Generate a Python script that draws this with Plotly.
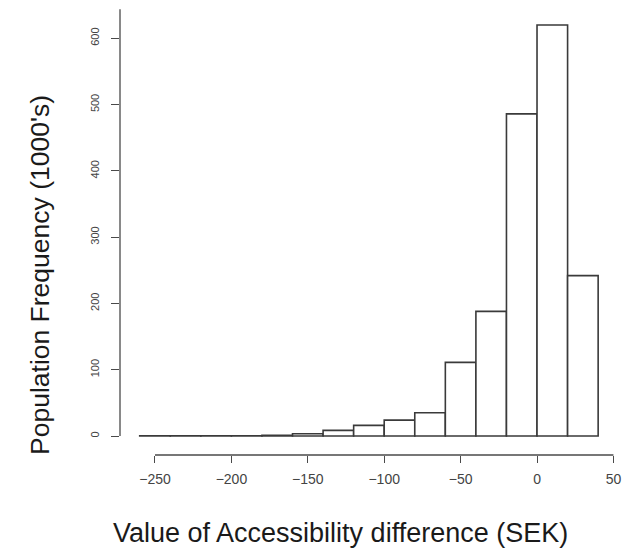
import plotly.graph_objects as go

# Histogram data (population in 1000's) per 20-SEK bin
bin_starts = [-260, -240, -220, -200, -180, -160, -140, -120, -100, -80, -60, -40, -20, 0, 20]
bin_width = 20
counts = [0.2, 0.2, 0.3, 0.4, 1.0, 3.5, 8.5, 16, 24, 35, 111, 188, 486, 620, 242]

x_ticks = [-250, -200, -150, -100, -50, 0, 50]
x_tick_labels = ["\u2212250", "\u2212200", "\u2212150", "\u2212100", "\u221250", "0", "50"]
y_ticks = [0, 100, 200, 300, 400, 500, 600]
y_tick_labels = ["0", "100", "200", "300", "400", "500", "600"]

x_title = "Value of Accessibility difference (SEK)"
y_title = "Population Frequency (1000's)"

FONT = "Liberation Sans, Arial, sans-serif"
AXIS_COLOR = "#4a4a4a"
BAR_LINE = "#3a3a3a"

fig = go.Figure()
fig.add_trace(go.Bar(
    x=bin_starts, y=counts, width=bin_width, offset=0,
    marker=dict(color="white", line=dict(color=BAR_LINE, width=1.6)),
    hoverinfo="x+y",
))

# The page body has an 8px margin, so the figure is sized 8px smaller.
fig.update_layout(
    width=628, height=541,
    margin=dict(l=112, r=16, t=0, b=94),
    paper_bgcolor="white", plot_bgcolor="white",
    showlegend=False,
    font=dict(family=FONT, color="#333"),
    xaxis=dict(
        range=[-272.9, 54.3], showgrid=False, zeroline=False, showline=False,
        tickmode="array", tickvals=x_ticks, ticktext=x_tick_labels,
        ticks="outside", ticklen=7, tickwidth=1.2, tickcolor=AXIS_COLOR,
        tickfont=dict(size=14, color="#444", family=FONT),
        ticklabelstandoff=4,
    ),
    yaxis=dict(
        range=[-28.67, 645.7], showgrid=False, zeroline=False, showline=False,
        tickmode="array", tickvals=y_ticks, ticktext=y_tick_labels,
        ticks="outside", ticklen=8, tickwidth=1.2, tickcolor=AXIS_COLOR,
        tickangle=-90,
        tickfont=dict(size=11, color="#444", family=FONT),
        ticklabelstandoff=8,
    ),
    shapes=[
        dict(type="line", xref="x", yref="paper", x0=x_ticks[0], x1=x_ticks[-1], y0=0, y1=0,
             line=dict(color=AXIS_COLOR, width=1.3)),
        dict(type="line", xref="paper", yref="y", x0=0, x1=0, y0=y_ticks[0], y1=644,
             line=dict(color=AXIS_COLOR, width=1.3)),
    ],
    annotations=[
        dict(text=x_title, xref="paper", yref="paper", x=0.44, y=-0.1745,
             xanchor="center", yanchor="middle", showarrow=False,
             font=dict(size=27, color="#1a1a1a", family=FONT)),
        dict(text=y_title, xref="paper", yref="paper", x=-0.16, y=0.4027,
             xanchor="center", yanchor="middle", showarrow=False, textangle=-90,
             font=dict(size=26.5, color="#1a1a1a", family=FONT)),
    ],
)

fig.write_html("out.html")
